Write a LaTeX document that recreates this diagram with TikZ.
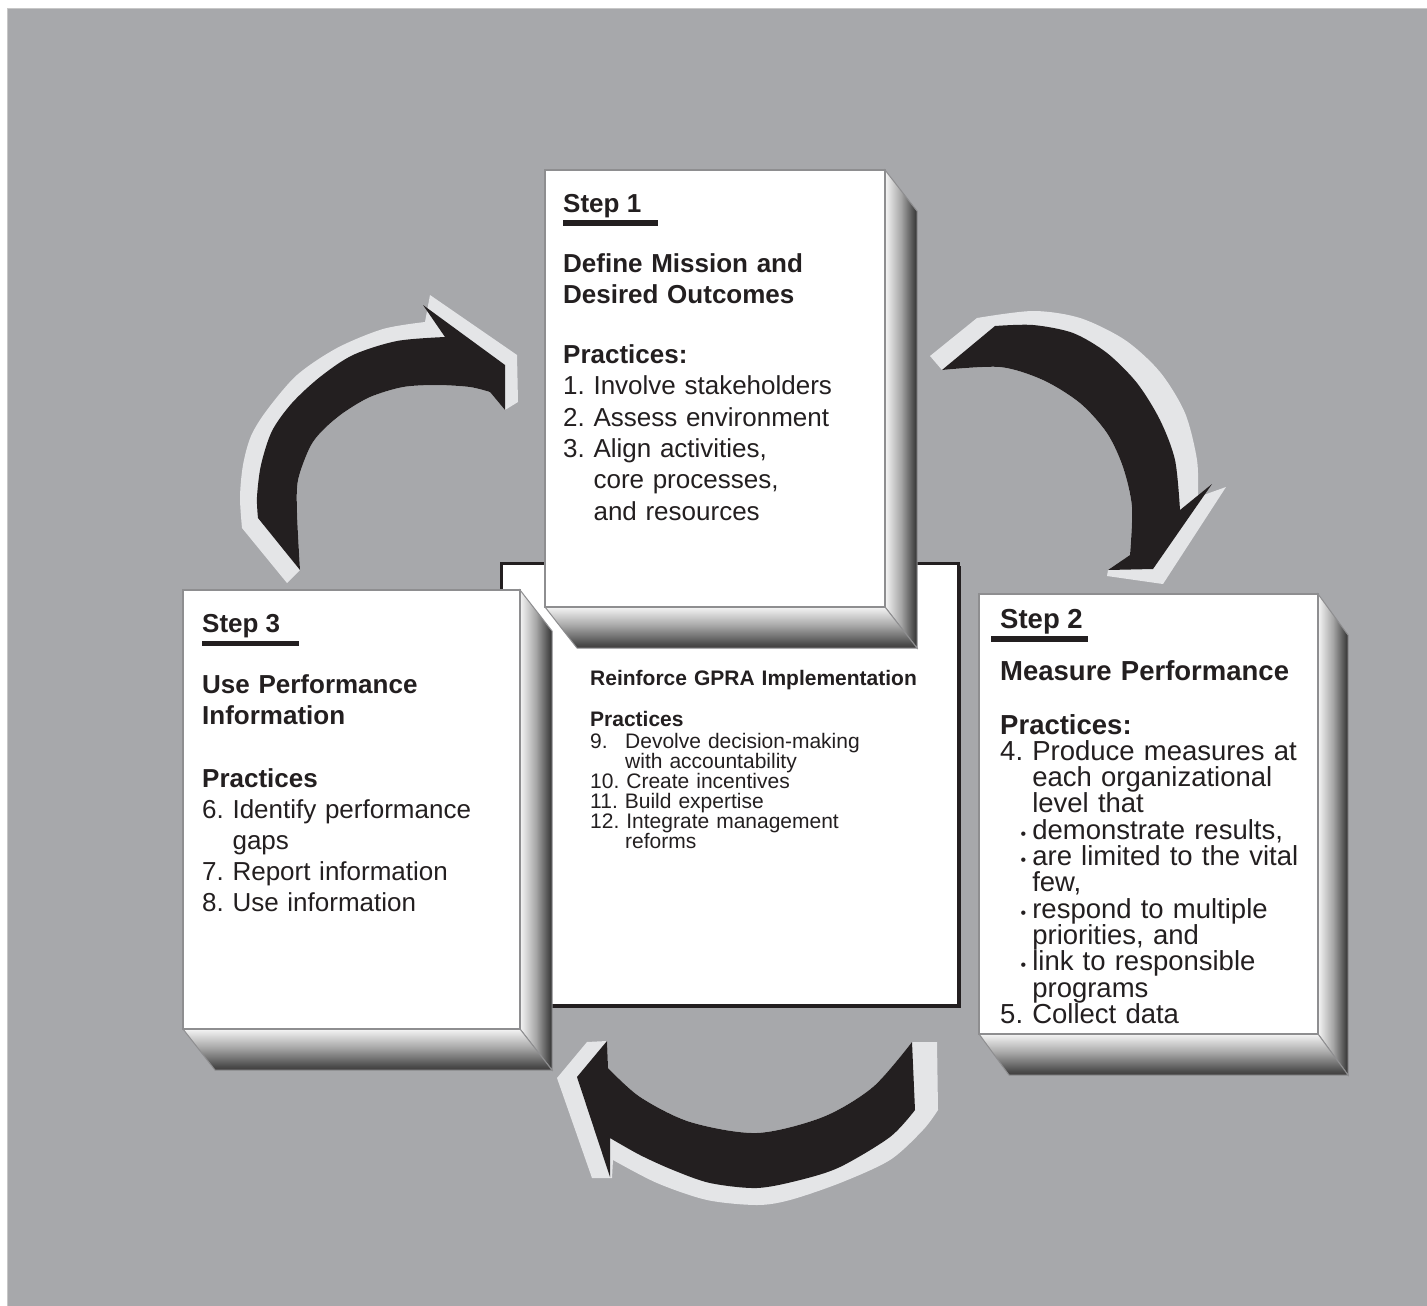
\documentclass[tikz,border=0pt]{standalone}
\usepackage{fontspec}
\setmainfont{Liberation Sans}
\frenchspacing
\definecolor{bggray}{HTML}{A7A8AB}
\definecolor{rimgray}{HTML}{E4E5E7}
\definecolor{inkblack}{HTML}{231F20}
\definecolor{edgegray}{HTML}{8E8E90}
\pgfdeclarehorizontalshading{sidefade}{100bp}{color(0bp)=(white); color(22bp)=(white); color(50bp)=(black!35); color(72bp)=(black!75); color(84bp)=(inkblack); color(100bp)=(inkblack)}
\pgfdeclareverticalshading{basefade}{100bp}{color(0bp)=(inkblack); color(16bp)=(inkblack); color(30bp)=(black!70); color(52bp)=(black!35); color(78bp)=(white); color(100bp)=(white)}
\tikzset{
  frontface/.style={fill=white, draw=edgegray, line width=1.2pt},
  sideface/.style={shading=sidefade, draw=edgegray, line width=1pt},
  baseface/.style={shading=basefade, draw=edgegray, line width=1pt},
  arrowbody/.style={fill=inkblack},
  arrowrim/.style={fill=rimgray},
  steplabel/.style={anchor=base west, inner sep=0pt, text=inkblack, font=\fontsize{#1}{#1}\selectfont\bfseries},
  stepbody/.style={anchor=base west, inner sep=0pt, text=inkblack, align=left, text width=#1}
}
\newcommand{\dotitem}{\llap{{\fontsize{16}{16}\selectfont\textbullet}\hspace{6pt}}}
\begin{document}
\begin{tikzpicture}[x=1pt, y=-1pt]
    \useasboundingbox (0,0) rectangle (1427,1306);
    \fill[white] (0,0) rectangle (1427,1306);
    \filldraw[fill=bggray, draw=black!22, line width=1.5pt] (7.5,8.5) rectangle (1430,1310);
    % box corners
    \coordinate (A1) at (545,170);
    \coordinate (C1) at (885,607);
    \coordinate (B1) at (885,170);
    \coordinate (D1) at (545,607);
    \coordinate (A2) at (979,594);
    \coordinate (B2) at (1318,594);
    \coordinate (C2) at (1318,1034);
    \coordinate (D2) at (979,1034);
    \coordinate (A3) at (183,590);
    \coordinate (B3) at (520,590);
    \coordinate (C3) at (520,1029);
    \coordinate (D3) at (183,1029);
    % curved arrows
    \path[arrowrim] plot[smooth] coordinates {(242,528) (240,497) (243,465) (251,436) (267,410) (297,375) (337,348) (383,329) (425,322)}
        -- (430,295) -- (517,355) -- (518,402) -- (505,410)
        -- plot[smooth] coordinates {(490,392) (470,387) (437,385) (403,387) (370,397) (343,413) (323,430) (310,447) (298,480) (297,513) (300,570)}
        -- (287,583) -- cycle;
    \path[arrowbody] plot[smooth] coordinates {(258,518) (257,497) (261,465) (272,431) (292,403) (320,377) (353,355) (397,341) (445,337)}
        -- (423,305) -- (505,365) -- (505,410)
        -- plot[smooth] coordinates {(490,392) (470,387) (437,385) (403,387) (370,397) (343,413) (323,430) (310,447) (298,480) (297,513) (300,570)}
        -- cycle;
    \path[arrowrim] (942,370) -- (930,356)
        -- plot[smooth] coordinates {(977,318) (1033,311) (1080,318) (1125,340) (1160,372) (1185,413) (1197,460) (1198,497)}
        -- (1226,487) -- (1163,584) -- (1107,576) -- (1108,570) -- (1130,555)
        -- plot[smooth] coordinates {(1130,555) (1132,507) (1123,467) (1107,433) (1080,403) (1043,380) (1000,367) (942,370)}
        -- cycle;
    \path[arrowbody] plot[smooth] coordinates {(995,326) (1033,325) (1073,333) (1107,353) (1137,383) (1160,420) (1175,460) (1180,510)}
        -- (1212,484) -- (1153,569) -- (1108,570) -- (1130,555)
        -- plot[smooth] coordinates {(1130,555) (1132,507) (1123,467) (1107,433) (1080,403) (1043,380) (1000,367) (942,370)}
        -- cycle;
    \path[arrowrim] (912,1042) -- (937,1042) -- (938,1110)
        -- plot[smooth] coordinates {(938,1110) (923,1130) (890,1160) (840,1183) (790,1200) (757,1205) (707,1200) (657,1183) (613,1160)}
        -- (612,1178) -- (592,1178) -- (557,1078) -- (587,1042) -- (607,1041) -- (608,1068)
        -- plot[smooth] coordinates {(608,1068) (640,1097) (690,1122) (757,1133) (823,1117) (873,1087) (912,1042)}
        -- cycle;
    \path[arrowbody] (912,1042) -- (915,1110)
        -- plot[smooth] coordinates {(915,1110) (890,1137) (840,1167) (800,1180) (757,1188) (710,1183) (673,1170) (640,1155) (610,1138)}
        -- (610,1177) -- (577,1077) -- (607,1041) -- (608,1068)
        -- plot[smooth] coordinates {(608,1068) (640,1097) (690,1122) (757,1133) (823,1117) (873,1087) (912,1042)}
        -- cycle;
    % middle box
    \filldraw[fill=white, draw=inkblack, line width=3pt] (501.5,563.5) rectangle (958.5,1005);
    \draw[inkblack, line width=2pt] (960,566) -- (960,1007) -- (504,1007);
    % step 3 box
    \path[sideface] (B3) -- ++(32,41) -- ++(0,439) -- (C3) -- cycle;
    \path[baseface] (D3) -- (C3) -- ++(32,41) -- ++(-337,0) -- cycle;
    \path[frontface] (A3) rectangle (C3);
    % step 1 box
    \path[sideface] (B1) -- ++(32,41) -- ++(0,437) -- (C1) -- cycle;
    \path[baseface] (D1) -- (C1) -- ++(32,41) -- ++(-340,0) -- cycle;
    \path[frontface] (A1) rectangle (C1);
    % step 2 box
    \path[sideface] (B2) -- ++(30,41) -- ++(0,440) -- (C2) -- cycle;
    \path[baseface] (D2) -- (C2) -- ++(30,41) -- ++(-339,0) -- cycle;
    \path[frontface] (A2) rectangle (C2);
    % texts
    \node[steplabel=26] (step1) at (563,212) {Step 1};
    \fill[inkblack] (563,220) rectangle (658,225.5);
    \node[stepbody=330, font=\fontsize{26}{31.3}\selectfont] (mission) at (563,272)
        {\textbf{Define Mission and}\\ \textbf{Desired Outcomes}\\[29pt]
         \textbf{Practices:}\\ 1. Involve stakeholders\\ 2. Assess environment\\
         3. Align activities,\\ \phantom{3. }core processes,\\ \phantom{3. }and resources};
    \node[steplabel=27.5] (step2) at (1000,628) {Step 2};
    \fill[inkblack] (991,636) rectangle (1088,641.5);
    \node[stepbody=330, font=\fontsize{27.5}{26.3}\selectfont] (measure) at (1000,680)
        {\textbf{Measure Performance}\\[27.7pt]
         \textbf{Practices:}\\ 4. Produce measures at\\ \phantom{4. }each organizational\\
         \phantom{4. }level that\\ \phantom{4. }\dotitem demonstrate results,\\
         \phantom{4. }\dotitem are limited to the vital\\ \phantom{4. }few,\\
         \phantom{4. }\dotitem respond to multiple\\ \phantom{4. }priorities, and\\
         \phantom{4. }\dotitem link to responsible\\ \phantom{4. }programs\\ 5. Collect data};
    \node[steplabel=26] (step3) at (202,632) {Step 3};
    \fill[inkblack] (202,641) rectangle (299,646);
    \node[stepbody=320, font=\fontsize{26}{31}\selectfont] (useinfo) at (202,693)
        {\textbf{Use Performance}\\ \textbf{Information}\\[32pt]
         \textbf{Practices}\\ 6. Identify performance\\ \phantom{6. }gaps\\
         7. Report information\\ 8. Use information};
    \node[stepbody=360, font=\fontsize{21}{20}\selectfont] (reinforce) at (590,685)
        {\textbf{Reinforce GPRA Implementation}\\[21pt]
         \textbf{Practices}\\[2pt] \makebox[35pt][l]{9.}Devolve decision-making\\
         \hspace*{35pt}with accountability\\ 10. Create incentives\\ 11. Build expertise\\
         12. Integrate management\\ \hspace*{35pt}reforms};
\end{tikzpicture}
\end{document}
